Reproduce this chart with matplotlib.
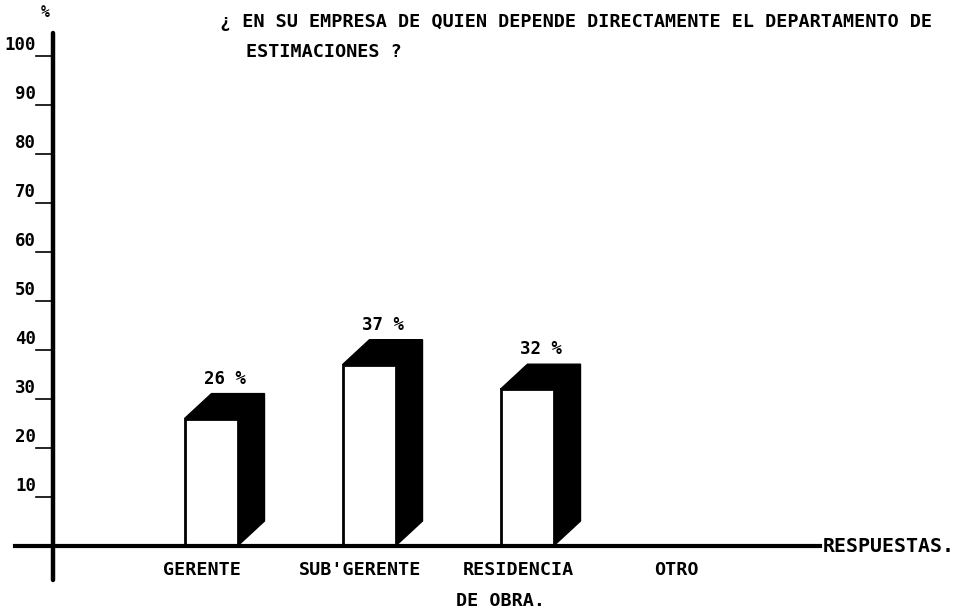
import numpy as np
import matplotlib
matplotlib.use("Agg")
import matplotlib.pyplot as plt
from matplotlib.patches import Polygon, Rectangle

# data
categorias = ["GERENTE", "SUB'GERENTE", "RESIDENCIA\nDE OBRA.", "OTRO"]
valores = [26, 37, 32]
etiquetas = ["26 %", "37 %", "32 %"]
yticks = [10, 20, 30, 40, 50, 60, 70, 80, 90, 100]

titulo1 = "\u00bf EN SU EMPRESA DE QUIEN DEPENDE DIRECTAMENTE EL DEPARTAMENTO DE"
titulo2 = "ESTIMACIONES ?"

plt.rcParams['font.family'] = ['DejaVu Sans Mono', 'DejaVu Sans']
plt.rcParams['font.weight'] = 'bold'

W, H = 972, 611
fig = plt.figure(figsize=(W / 100, H / 100), dpi=100)
fig.patch.set_facecolor('white')

# axes in pixel terms: spine x=53, baseline y=546, 49 px per 10 %
x0px, y0px = 53, 546
ppc = 158.0   # px per category
ppv = 4.9     # px per percent
right_px, top_px = 820, 33
ax = fig.add_axes([x0px / W, (H - y0px) / H, (right_px - x0px) / W, (y0px - top_px) / H])
ax.set_xlim(0, (right_px - x0px) / ppc)
ax.set_ylim(0, (y0px - top_px) / ppv)
for s in ax.spines.values():
    s.set_visible(False)
ax.set_xticks([])
ax.set_yticks([])

# ejes
ax.plot([0, 0], [-(580 - y0px) / ppv, (y0px - top_px) / ppv], color='black', lw=3.2,
        clip_on=False, solid_capstyle='round')
ax.plot([(15 - x0px) / ppc, (right_px - x0px) / ppc], [0, 0], color='black', lw=3,
        clip_on=False)

# marcas y etiquetas del eje y
tl = 17 / ppc
for v in yticks:
    ax.plot([-tl, 0], [v, v], color='black', lw=1.2, clip_on=False)
    ax.text(-tl, v + 0.4, str(v), ha='right', va='bottom', fontsize=12.5, clip_on=False)
ax.text((45 - x0px) / ppc, (y0px - 12) / ppv, "%", ha='center', va='center',
        fontsize=10.5, clip_on=False)

# barras 3D
bw = 53 / ppc
dx = 27 / ppc
dy = 25 / ppv
for i, v in enumerate(valores):
    xc = i + 1
    xl, xr = xc - bw / 2, xc + bw / 2
    side = Polygon([(xr, 0), (xr + dx, dy), (xr + dx, v + dy), (xr, v)],
                   closed=True, facecolor='black', edgecolor='black', lw=1)
    top = Polygon([(xl, v), (xl + dx, v + dy), (xr + dx, v + dy), (xr, v)],
                  closed=True, facecolor='black', edgecolor='black', lw=1)
    front = Rectangle((xl, 0), bw, v, facecolor='white', edgecolor='black', lw=2)
    ax.add_patch(side)
    ax.add_patch(top)
    ax.add_patch(front)
    ax.text(xc + dx / 2, v + dy + 1.2, etiquetas[i], ha='center', va='bottom',
            fontsize=12.5)

# categorias
for i, c in enumerate(categorias):
    xc = i + 1 - 9 / ppc
    lines = c.split("\n")
    ax.text(xc, -(570 - y0px) / ppv, lines[0], ha='center', va='center',
            fontsize=13.2, clip_on=False)
    if len(lines) > 1:
        ax.text(xc - 18 / ppc, -(601 - y0px) / ppv, lines[1], ha='center', va='center',
                fontsize=13.2, clip_on=False)

ax.text((823 - x0px) / ppc, 0, "RESPUESTAS.", ha='left', va='center', fontsize=14.3,
        clip_on=False)

# titulo
fig.text(220 / W, 1 - 22 / H, titulo1, ha='left', va='center', fontsize=13.3)
fig.text(246 / W, 1 - 52 / H, titulo2, ha='left', va='center', fontsize=13.3)

fig.savefig("out.png", dpi=100, facecolor='white')
